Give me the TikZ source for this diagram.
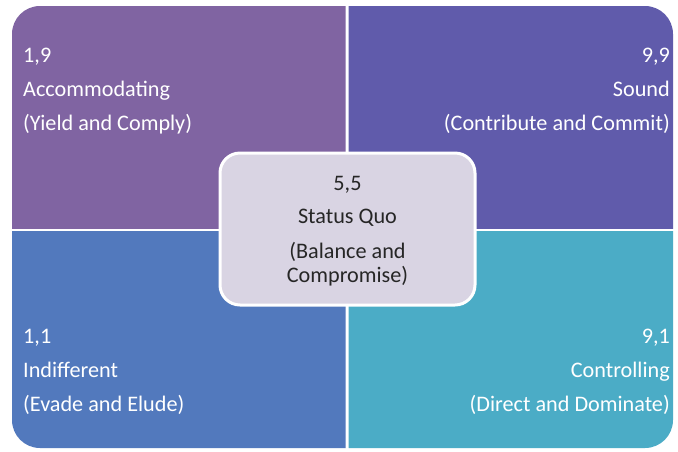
\documentclass[tikz,border=0pt]{standalone}
\usepackage{fontspec}
\setmainfont{Carlito}
\definecolor{qpurple}{HTML}{8064A2}
\definecolor{qviolet}{HTML}{605BAB}
\definecolor{qblue}{HTML}{5279BD}
\definecolor{qteal}{HTML}{4BACC6}
\definecolor{centerfill}{HTML}{D9D4E3}
\definecolor{centertext}{HTML}{262626}
\tikzset{
  qlabel/.style={text=white, font=\fontsize{22.2}{26}\selectfont, inner sep=0pt},
  clabel/.style={text=centertext, font=\fontsize{22.2}{26}\selectfont, inner sep=0pt, anchor=base},
  centerbox/.style={draw=white, line width=3pt, fill=centerfill, rounded corners=20pt}
}
\begin{document}
\begin{tikzpicture}[x=1pt,y=-1pt]
\useasboundingbox (0,0) rectangle (678,451);
\fill[white] (0,0) rectangle (678,451);
% quadrants, each rounded only on its outer corner
\begin{scope}
  \clip (12,6) rectangle (345.5,228.5);
  \fill[qpurple, rounded corners=28pt] (12,6) rectangle (400,300);
\end{scope}
\begin{scope}
  \clip (348.5,6) rectangle (673,228.5);
  \fill[qviolet, rounded corners=28pt] (300,6) rectangle (673,300);
\end{scope}
\begin{scope}
  \clip (12,231.5) rectangle (345.5,448);
  \fill[qblue, rounded corners=28pt] (12,150) rectangle (400,448);
\end{scope}
\begin{scope}
  \clip (348.5,231.5) rectangle (673,448);
  \fill[qteal, rounded corners=28pt] (300,150) rectangle (673,448);
\end{scope}
% quadrant labels
\node[qlabel, anchor=base west] (tl1) at (23,62) {1,9};
\node[qlabel, anchor=base west] (tl2) at (23,96) {Accommodating};
\node[qlabel, anchor=base west] (tl3) at (23,130) {(Yield and Comply)};
\node[qlabel, anchor=base east] (tr1) at (670,62) {9,9};
\node[qlabel, anchor=base east] (tr2) at (670,96) {Sound};
\node[qlabel, anchor=base east] (tr3) at (670,130) {(Contribute and Commit)};
\node[qlabel, anchor=base west] (bl1) at (23,343) {1,1};
\node[qlabel, anchor=base west] (bl2) at (23,377) {Indifferent};
\node[qlabel, anchor=base west] (bl3) at (23,411) {(Evade and Elude)};
\node[qlabel, anchor=base east] (br1) at (670,343) {9,1};
\node[qlabel, anchor=base east] (br2) at (670,377) {Controlling};
\node[qlabel, anchor=base east] (br3) at (670,411) {(Direct and Dominate)};
% centre box
\path[centerbox] (220,153) rectangle (475,305);
\node[clabel] (c1) at (347.5,190) {5,5};
\node[clabel] (c2) at (347.5,223) {Status Quo};
\node[clabel] (c3) at (347.5,258) {(Balance and};
\node[clabel] (c4) at (347.5,282) {Compromise)};
\end{tikzpicture}
\end{document}
